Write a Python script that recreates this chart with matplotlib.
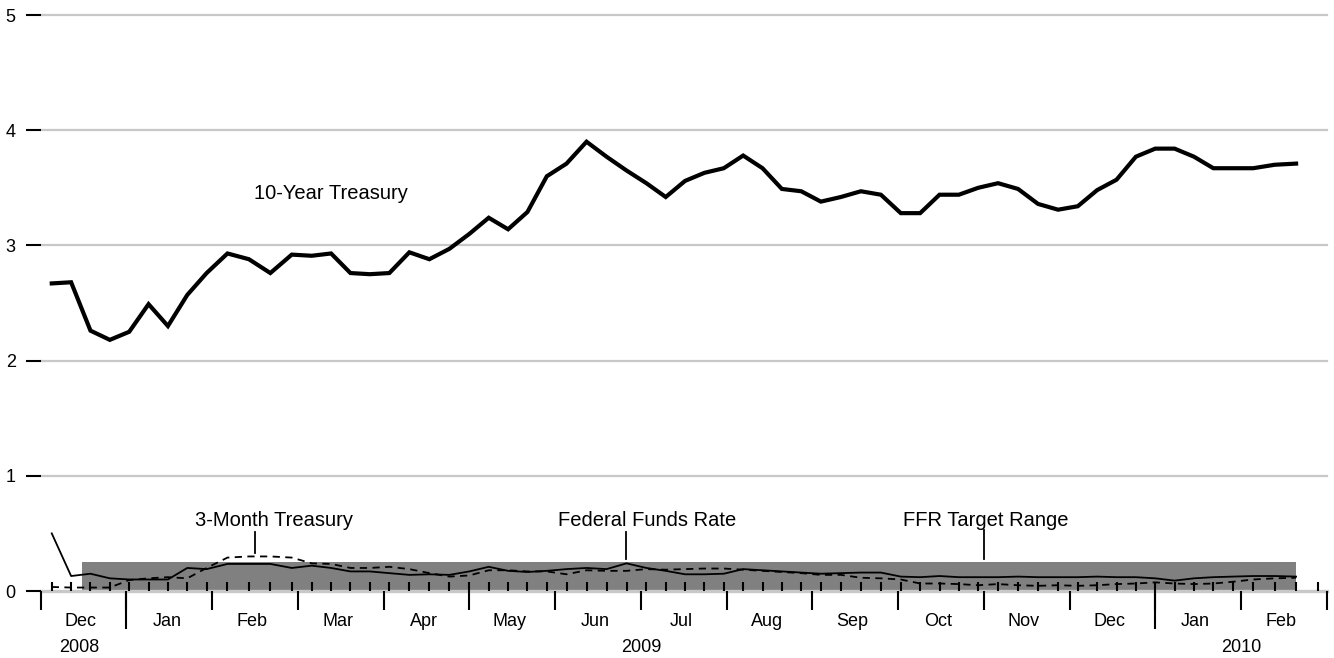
import matplotlib
matplotlib.use("Agg")
import matplotlib.pyplot as plt
import matplotlib.transforms as mtransforms
import numpy as np
import pandas as pd

plt.rcParams["font.family"] = ["Liberation Sans", "DejaVu Sans"]

# weekly observations (Fridays), Dec 5 2008 - Feb 19 2010
weeks = pd.date_range("2008-12-05", "2010-02-19", freq="W-FRI")
tick_weeks = pd.date_range("2008-12-05", "2010-02-26", freq="W-FRI")

ten_year = [2.67, 2.68, 2.26, 2.18, 2.25, 2.49, 2.30, 2.57, 2.76, 2.93,
            2.88, 2.76, 2.92, 2.91, 2.93, 2.76, 2.75, 2.76, 2.94, 2.88,
            2.97, 3.10, 3.24, 3.14, 3.29, 3.60, 3.71, 3.90, 3.77, 3.65,
            3.54, 3.42, 3.56, 3.63, 3.67, 3.78, 3.67, 3.49, 3.47, 3.38,
            3.42, 3.47, 3.44, 3.28, 3.28, 3.44, 3.44, 3.50, 3.54, 3.49,
            3.36, 3.31, 3.34, 3.48, 3.57, 3.77, 3.84, 3.84, 3.77, 3.67,
            3.67, 3.67, 3.70, 3.71]

fed_funds = [0.50, 0.13, 0.15, 0.11, 0.10, 0.10, 0.10, 0.20, 0.19, 0.235,
             0.235, 0.235, 0.20, 0.22, 0.20, 0.17, 0.17, 0.155, 0.14, 0.145,
             0.14, 0.17, 0.21, 0.175, 0.165, 0.175, 0.19, 0.20, 0.19, 0.24,
             0.20, 0.175, 0.145, 0.145, 0.15, 0.19, 0.18, 0.17, 0.16, 0.15,
             0.155, 0.16, 0.16, 0.125, 0.12, 0.13, 0.12, 0.12, 0.12, 0.125,
             0.12, 0.12, 0.12, 0.125, 0.12, 0.12, 0.11, 0.09, 0.11, 0.12,
             0.125, 0.13, 0.13, 0.125]

three_month = [0.035, 0.03, 0.03, 0.03, 0.095, 0.11, 0.12, 0.11, 0.20, 0.29,
               0.30, 0.30, 0.29, 0.24, 0.235, 0.20, 0.20, 0.21, 0.19, 0.155,
               0.125, 0.135, 0.18, 0.18, 0.17, 0.17, 0.145, 0.18, 0.175, 0.175,
               0.19, 0.185, 0.19, 0.195, 0.195, 0.185, 0.175, 0.165, 0.155, 0.14,
               0.14, 0.115, 0.11, 0.10, 0.065, 0.065, 0.06, 0.05, 0.06, 0.05,
               0.045, 0.05, 0.045, 0.05, 0.06, 0.065, 0.075, 0.065, 0.06, 0.065,
               0.08, 0.10, 0.11, 0.115]

target_dates = ["2008-12-16", "2010-02-19"]
target_low = [0.0, 0.0]
target_high = [0.25, 0.25]

month_labels = ["Dec", "Jan", "Feb", "Mar", "Apr", "May", "Jun", "Jul",
                "Aug", "Sep", "Oct", "Nov", "Dec", "Jan", "Feb"]
year_labels = ["2008", "2009", "2010"]
year_centers = [0.45, 7.0, 14.0]
year_starts = [1, 13]
yticks = [0, 1, 2, 3, 4, 5]


def month_pos(d):
    # months since Dec 1 2008, each month the same width
    d = pd.Timestamp(d)
    return (d.year - 2008) * 12 + d.month - 12 + (d.day - 1) / d.days_in_month


x = np.array([month_pos(d) for d in weeks])
xt = np.array([month_pos(d) for d in tick_weeks])
x_target = [month_pos(d) for d in target_dates]

fig = plt.figure(figsize=(13.34, 6.58), dpi=100)
ax = fig.add_axes([40.7 / 1334, 1 - 591 / 658, 1286 / 1334, 576 / 658])
ax.set_xlim(0, 15)
ax.set_ylim(0, 5)
for s in ax.spines.values():
    s.set_visible(False)

for v in yticks:
    ax.axhline(v, color="#c8c8c8", lw=2.4 if v == 0 else 1.6,
               clip_on=False, zorder=1 if v == 0 else 0.8)

ax.fill_between(x_target, target_low, target_high, color="#808080",
                lw=0, zorder=0.5)

ax.plot(x, ten_year, color="black", lw=3, solid_joinstyle="miter", zorder=3)
ax.plot(x, fed_funds, color="black", lw=1.3, zorder=3)
ax.plot(x, three_month, color="black", lw=1.3, dashes=(4, 3), zorder=3)

# y axis
ax.set_yticks(yticks)
ax.set_yticklabels([str(v) for v in yticks])
ax.tick_params(axis="y", length=11, width=1.5, pad=7, labelsize=13,
               colors="black")

# x axis: month boundaries (down), weeks (up)
ax.xaxis.remove_overlapping_locs = False
ax.set_xticks(np.arange(0, 16))
ax.set_xticklabels([])
ax.set_xticks(xt, minor=True)
ax.tick_params(axis="x", which="major", direction="out", length=13.5,
               width=1.5)
ax.tick_params(axis="x", which="minor", direction="in", length=6.5,
               width=1.5)

sec = ax.secondary_xaxis("bottom")
sec.set_xticks(year_starts)
sec.set_xticklabels([])
sec.tick_params(axis="x", direction="out", length=27, width=1.5)
sec.spines["bottom"].set_visible(False)

trans = mtransforms.blended_transform_factory(ax.transData, ax.transAxes)
for i, lab in enumerate(month_labels):
    ax.text(i + 0.47, -30 / 576, lab, transform=trans, ha="center",
            va="center", fontsize=13)
for c, lab in zip(year_centers, year_labels):
    ax.text(c, -56 / 576, lab, transform=trans, ha="center", va="center",
            fontsize=13)

# series labels
ax.text(3.386, 3.403, "10-Year Treasury", ha="center", va="baseline",
        fontsize=14.5)
ax.text(2.716, 0.564, "3-Month Treasury", ha="center", va="baseline",
        fontsize=14.5)
ax.plot([2.5, 2.5], [0.51, 0.33], color="black", lw=1.3)
ax.text(7.07, 0.564, "Federal Funds Rate", ha="center", va="baseline",
        fontsize=14.5)
ax.plot([6.83, 6.83], [0.515, 0.28], color="black", lw=1.3)
ax.text(11.02, 0.564, "FFR Target Range", ha="center", va="baseline",
        fontsize=14.5)
ax.plot([11.0, 11.0], [0.53, 0.275], color="black", lw=1.3)

fig.savefig("out.png", dpi=100)
